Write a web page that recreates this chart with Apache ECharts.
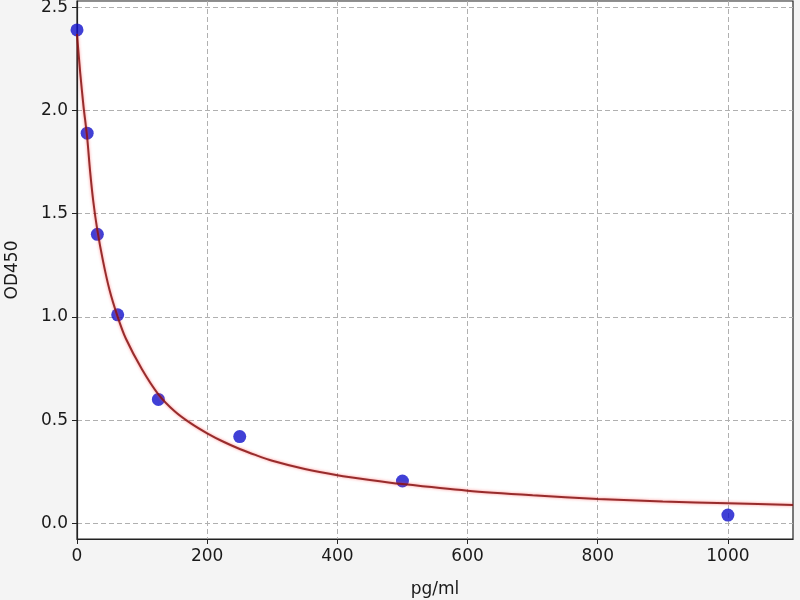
<!DOCTYPE html>
<html>
<head>
<meta charset="utf-8">
<script src="https://cdn.jsdelivr.net/npm/echarts@6/dist/echarts.min.js"></script>
<style>
html, body { margin: 0; padding: 0; background: #f4f4f4; }
#chart { width: 800px; height: 600px; }
</style>
</head>
<body>
<div id="chart"></div>
<script>
// standard points (pg/ml, OD450)
var std_x = [0, 15.6, 31.25, 62.5, 125, 250, 500, 1000];
var std_y = [2.39, 1.89, 1.40, 1.01, 0.60, 0.42, 0.205, 0.04];

// fitted curve
var curve_x = [0, 5, 10, 15.6, 20, 25, 31.25, 40, 50, 62.5, 75, 100, 125, 150, 175, 200, 225, 250, 275, 300, 350, 400, 450, 500, 600, 700, 800, 900, 1000, 1100];
var curve_y = [2.37, 2.18, 2.02, 1.87, 1.71, 1.56, 1.42, 1.27, 1.13, 1.00, 0.895, 0.745, 0.625, 0.543, 0.484, 0.436, 0.395, 0.36, 0.33, 0.303, 0.263, 0.233, 0.21, 0.19, 0.158, 0.136, 0.118, 0.106, 0.097, 0.089];

var x_ticks = [0, 200, 400, 600, 800, 1000];
var y_ticks = [0, 0.5, 1.0, 1.5, 2.0, 2.5];

var font = 'DejaVu Sans';

var stdData = [];
for (var i = 0; i < std_x.length; i++) {
	stdData.push([std_x[i], std_y[i]]);
}
var curveData = [];
for (var j = 0; j < curve_x.length; j++) {
	curveData.push([curve_x[j], curve_y[j]]);
}

var myChart = echarts.init(document.getElementById('chart'));
var option = {
	backgroundColor: '#f4f4f4',
	animation: false,
	grid: {
		left: 77,
		right: 7,
		top: 1,
		bottom: 61,
		outerBoundsMode: 'none',
		containLabel: false,
		show: true,
		backgroundColor: '#ffffff',
		borderColor: '#222222',
		borderWidth: 1.2
	},
	xAxis: {
		type: 'value',
		min: 0,
		max: 1100,
		name: 'pg/ml',
		nameLocation: 'middle',
		nameGap: 42,
		nameTextStyle: { fontFamily: font, fontSize: 17, color: '#1a1a1a' },
		axisLine: { show: true, onZero: false, lineStyle: { color: '#222', width: 1.2 } },
		axisTick: { show: true, length: 5, customValues: x_ticks, lineStyle: { color: '#222' } },
		axisLabel: {
			customValues: x_ticks,
			fontFamily: font, fontSize: 17, color: '#1a1a1a', margin: 9,
			formatter: function (v) { return String(v); }
		},
		splitLine: { show: true, lineStyle: { color: '#b0b0b0', type: [5, 3], width: 1 } }
	},
	yAxis: {
		type: 'value',
		min: -0.076,
		max: 2.53,
		name: 'OD450',
		nameLocation: 'middle',
		nameGap: 56,
		nameRotate: 90,
		nameTextStyle: { fontFamily: font, fontSize: 17, color: '#1a1a1a' },
		axisLine: { show: true, onZero: false, lineStyle: { color: '#222', width: 1.2 } },
		axisTick: { show: true, length: 5, customValues: y_ticks, lineStyle: { color: '#222' } },
		axisLabel: {
			customValues: y_ticks,
			fontFamily: font, fontSize: 17, color: '#1a1a1a', margin: 9,
			formatter: function (v) { return v.toFixed(1); }
		},
		splitLine: { show: true, lineStyle: { color: '#b0b0b0', type: [5, 3], width: 1 } }
	},
	series: [
		{
			name: 'std',
			type: 'scatter',
			data: stdData,
			symbolSize: 13,
			clip: false,
			itemStyle: { color: '#1010cc' },
			z: 2
		},
		{
			name: 'fit',
			type: 'line',
			data: curveData,
			smooth: 0.25,
			showSymbol: false,
			lineStyle: {
				color: '#861212',
				width: 2,
				opacity: 0.85,
				shadowBlur: 3,
				shadowColor: 'rgba(255,60,60,0.7)'
			},
			z: 3
		}
	]
};
myChart.setOption(option);
window.onresize = myChart.resize;
</script>
</body>
</html>
